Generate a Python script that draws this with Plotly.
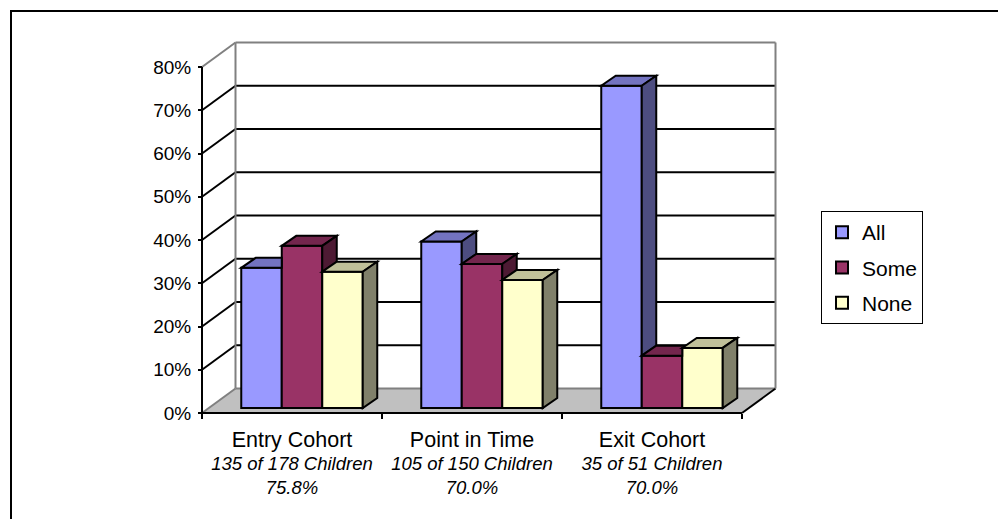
import plotly.graph_objects as go

# ---- data -------------------------------------------------------------
categories = ["Entry Cohort", "Point in Time", "Exit Cohort"]
cohort_counts = ["135 of 178 Children", "105 of 150 Children", "35 of 51 Children"]
cohort_shares = ["75.8%", "70.0%", "70.0%"]

series_names = ["All", "Some", "None"]
all_vals = [0.324, 0.385, 0.745]
some_vals = [0.375, 0.333, 0.121]
none_vals = [0.315, 0.296, 0.139]
y_tick_vals = [0.0, 0.1, 0.2, 0.3, 0.4, 0.5, 0.6, 0.7, 0.8]

# ---- styling ----------------------------------------------------------
FONT = "Liberation Sans, Arial, sans-serif"
front_colors = ["#9999FF", "#993366", "#FFFFCC"]
top_colors = ["#7373C0", "#73264D", "#C0C099"]
side_colors = ["#4D4D80", "#4D1A33", "#80806A"]
GRAY = "#808080"
FLOOR = "#C0C0C0"

# page / plot-area geometry (pixels)
W, H = 998, 519
PLOT_L, PLOT_R, PLOT_T, PLOT_B = 196, 780, 36, 418
AXIS_X_PX, AXIS_Y_PX = 202, 413          # front corner of the 3-D box
PX_PER_CAT, PX_PER_UNIT = 180.0, 432.5   # scale of the axes

# oblique projection offsets, expressed in axis units
BOX_DX, BOX_DY = 33.5 / PX_PER_CAT, 24.5 / PX_PER_UNIT    # full box depth
BAR_SHIFT = 10 / PX_PER_CAT                              # bars sit a bit behind the front plane
BAR_BASE = 5 / PX_PER_UNIT
BAR_DX, BAR_DY = 14.5 / PX_PER_CAT, 10 / PX_PER_UNIT     # bar depth
BAR_W = 40.5 / PX_PER_CAT

x_center0 = AXIS_X_PX + 0.5 * PX_PER_CAT
x_range = [(PLOT_L - x_center0) / PX_PER_CAT, (PLOT_R - x_center0) / PX_PER_CAT]
y_range = [(AXIS_Y_PX - PLOT_B) / PX_PER_UNIT, (AXIS_Y_PX - PLOT_T) / PX_PER_UNIT]

series_vals = [all_vals, some_vals, none_vals]
n_cat = len(categories)
x_lo, x_hi = -0.5, n_cat - 0.5
y_top = y_tick_vals[-1]

fig = go.Figure()

# front faces of the bars
for i, (name, vals) in enumerate(zip(series_names, series_vals)):
    fig.add_trace(go.Bar(
        x=categories, y=vals, base=BAR_BASE, name=name,
        width=BAR_W, offset=-1.5 * BAR_W + i * BAR_W + BAR_SHIFT,
        marker=dict(color=front_colors[i], line=dict(color="black", width=2)),
        legendgroup=name, hoverinfo="skip",
    ))


def path_of(points):
    return "M " + " L ".join(f"{x:.5f},{y:.5f}" for x, y in points) + " Z"


def seg(x0, y0, x1, y1, color, width=2, layer="below"):
    return dict(type="line", xref="x", yref="y", x0=x0, y0=y0, x1=x1, y1=y1,
                line=dict(color=color, width=width), layer=layer)


shapes = []

# floor
shapes.append(dict(type="path", xref="x", yref="y", layer="below",
                   path=path_of([(x_lo, 0), (x_hi, 0), (x_hi + BOX_DX, BOX_DY),
                                 (x_lo + BOX_DX, BOX_DY)]),
                   fillcolor=FLOOR, line=dict(width=0)))
shapes.append(seg(x_lo, 0, x_lo + BOX_DX, BOX_DY, GRAY))
shapes.append(seg(x_lo + BOX_DX, BOX_DY, x_hi + BOX_DX, BOX_DY, GRAY))
shapes.append(seg(x_hi, 0, x_hi + BOX_DX, BOX_DY, "black"))

# back wall and side-wall gridlines
for v in y_tick_vals[1:]:
    col = GRAY if v == y_top else "black"
    shapes.append(seg(x_lo + BOX_DX, v + BOX_DY, x_hi + BOX_DX, v + BOX_DY, col))
    shapes.append(seg(x_lo, v, x_lo + BOX_DX, v + BOX_DY, col))
shapes.append(seg(x_lo + BOX_DX, BOX_DY, x_lo + BOX_DX, y_top + BOX_DY, GRAY))
shapes.append(seg(x_hi + BOX_DX, BOX_DY, x_hi + BOX_DX, y_top + BOX_DY, GRAY))

# front axis lines
shapes.append(seg(x_lo, 0, x_lo, y_top, "black"))
shapes.append(seg(x_lo, 0, x_hi, 0, "black"))

# visible top and side faces of each bar
for c in range(n_cat):
    for i in range(len(series_vals)):
        xl = c - 1.5 * BAR_W + i * BAR_W + BAR_SHIFT
        xr = xl + BAR_W
        v = BAR_BASE + series_vals[i][c]
        v_next = BAR_BASE + series_vals[i + 1][c] if i + 1 < len(series_vals) else None

        A, B = (xl, v), (xr, v)
        C, D = (xr + BAR_DX, v + BAR_DY), (xl + BAR_DX, v + BAR_DY)
        if v_next is None or v_next <= v:
            top = [A, B, C, D]
        elif v_next < v + BAR_DY:
            t = (v_next - v) / BAR_DY
            top = [A, B, (xr, v_next), (xr + BAR_DX * t, v_next), C, D]
        else:
            top = [A, B, (xr, v + BAR_DY), D]
        shapes.append(dict(type="path", xref="x", yref="y", layer="above",
                           path=path_of(top), fillcolor=top_colors[i],
                           line=dict(color="black", width=2)))

        if v_next is None or v_next < v:
            h0 = BAR_BASE if v_next is None else v_next
            side = [(xr, h0), (xr, v), (xr + BAR_DX, v + BAR_DY), (xr + BAR_DX, h0 + BAR_DY)]
            shapes.append(dict(type="path", xref="x", yref="y", layer="above",
                               path=path_of(side), fillcolor=side_colors[i],
                               line=dict(color="black", width=2)))

# outer chart border
pw, ph = PLOT_R - PLOT_L, PLOT_B - PLOT_T
shapes.append(dict(type="rect", xref="paper", yref="paper",
                   x0=(11 - PLOT_L) / pw, x1=(W + 20 - PLOT_L) / pw,
                   y0=-(H + 20 - PLOT_B) / ph, y1=(PLOT_B - 11) / ph,
                   line=dict(color="black", width=2), fillcolor="rgba(0,0,0,0)"))

tick_text = [
    f'<span style="font-size:21.5px">{name}</span><br>'
    f'<span style="font-size:18.5px"><i>{cnt}</i></span><br>'
    f'<span style="font-size:18.5px"><i>{pct}</i></span>'
    for name, cnt, pct in zip(categories, cohort_counts, cohort_shares)
]

fig.update_layout(
    width=W, height=H, autosize=False,
    margin=dict(l=PLOT_L, r=W - PLOT_R, t=PLOT_T, b=H - PLOT_B, pad=0),
    paper_bgcolor="white", plot_bgcolor="rgba(0,0,0,0)",
    font=dict(family=FONT, color="black"),
    barmode="overlay", shapes=shapes,
    showlegend=True,
    legend=dict(
        x=(821 - PLOT_L) / pw, y=(PLOT_B - 211) / ph, xanchor="left", yanchor="top",
        bordercolor="black", borderwidth=1, bgcolor="white",
        font=dict(family=FONT, size=21, color="black"),
        traceorder="grouped", tracegroupgap=5,
    ),
    xaxis=dict(
        type="category", range=x_range, anchor="free",
        position=(PLOT_B - AXIS_Y_PX) / ph,
        tickmode="array", tickvals=categories, ticktext=tick_text,
        tickson="boundaries", ticks="outside", ticklen=5, tickwidth=2, tickcolor="black",
        ticklabelstandoff=15,
        showgrid=False, showline=False, zeroline=False,
        tickfont=dict(family=FONT, size=18, color="black"),
    ),
    yaxis=dict(
        range=y_range, anchor="free", position=(AXIS_X_PX - PLOT_L) / pw,
        tickmode="array", tickvals=y_tick_vals, tickformat=".0%",
        ticks="outside", ticklen=4, tickwidth=2, tickcolor="black",
        ticklabelstandoff=3,
        showgrid=False, showline=False, zeroline=False,
        tickfont=dict(family=FONT, size=19, color="black"),
    ),
)

fig.write_html("out.html")
